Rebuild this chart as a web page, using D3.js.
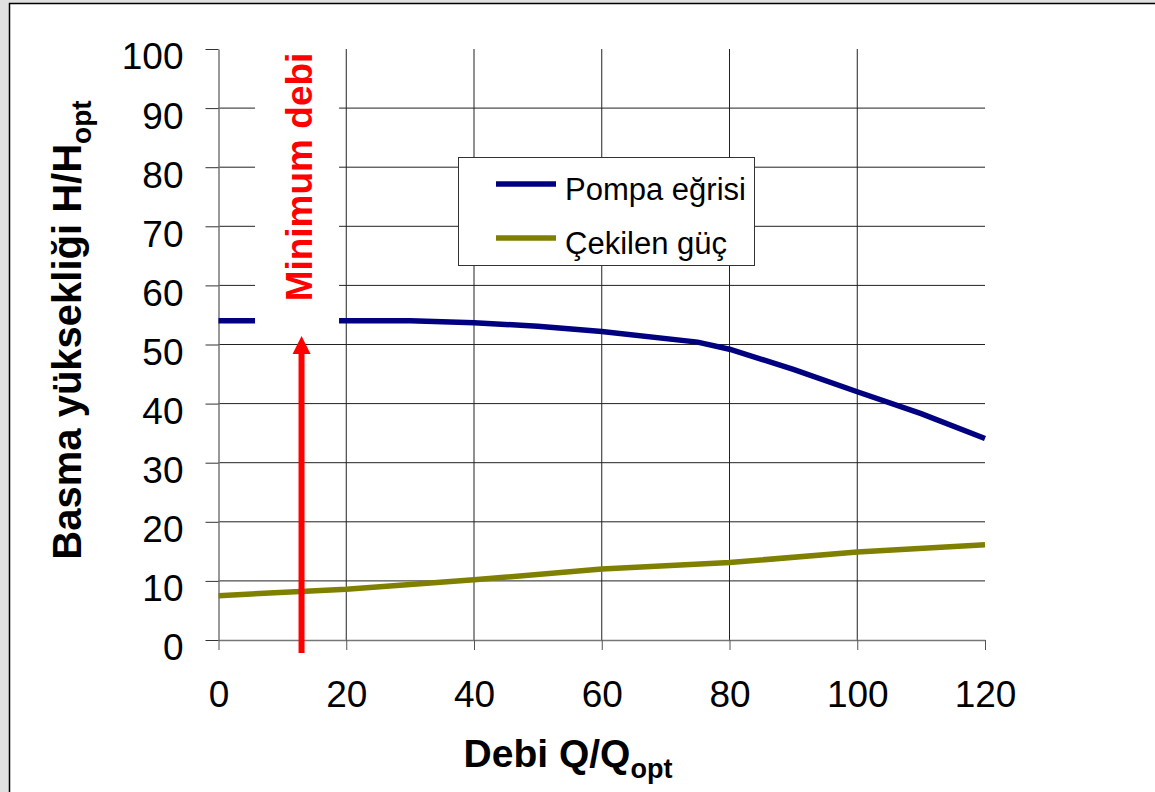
<!DOCTYPE html>
<html>
<head>
<meta charset="utf-8">
<script src="https://cdn.jsdelivr.net/npm/d3@7"></script>
<style>
  html, body { margin: 0; padding: 0; background: #fff; }
  svg { display: block; font-family: "Liberation Sans", Arial, sans-serif; }
</style>
</head>
<body>
<svg id="chart" width="1155" height="792"></svg>
<script>
// ---- data ----
const pumpQ = [0, 10, 20, 30, 40, 50, 60, 75, 80, 90, 100, 110, 120];
const pumpH = [54, 54, 54, 54, 53.7, 53.1, 52.2, 50.4, 49.2, 45.8, 42, 38.3, 34.1];
const powerQ = [0, 20, 40, 60, 80, 100, 120];
const powerP = [7.5, 8.6, 10.2, 12.0, 13.1, 14.9, 16.1];
const xTicks = [0, 20, 40, 60, 80, 100, 120];
const yTicks = [0, 10, 20, 30, 40, 50, 60, 70, 80, 90, 100];
const seriesNames = ["Pompa eğrisi", "Çekilen güç"];
const minFlow = 13;
const minFlowLabel = "Minimum debi";

// ---- layout ----
const svg = d3.select("#chart");
const W = 1155, H = 792;
const x = d3.scaleLinear().domain([0, 120]).range([218.5, 985]);
const y = d3.scaleLinear().domain([0, 100]).range([640, 49]);

// frame
svg.append("rect").attr("x", 0).attr("y", 0).attr("width", W).attr("height", H).attr("fill", "#e0e0e0");
svg.append("rect").attr("x", 9.5).attr("y", 3.5).attr("width", W).attr("height", H).attr("fill", "#fff")
  .attr("stroke", "#000").attr("stroke-width", 1.5);

// gridlines
const g = svg.append("g");
g.selectAll(".hg").data(yTicks.filter(d => d > 0 && d < 100)).join("line")
  .attr("x1", x(0)).attr("x2", x(120))
  .attr("y1", d => y(d)).attr("y2", d => y(d))
  .attr("stroke", "#222").attr("stroke-width", 1);
g.selectAll(".vg").data(xTicks.filter(d => d > 0 && d < 120)).join("line")
  .attr("x1", d => x(d)).attr("x2", d => x(d))
  .attr("y1", y(100)).attr("y2", y(0))
  .attr("stroke", "#222").attr("stroke-width", 1);

// axes
const yAxis = d3.axisLeft(y).tickValues(yTicks).tickSize(13).tickPadding(22).tickSizeOuter(0);
const gy = svg.append("g").attr("transform", `translate(${x(0)},0)`).call(yAxis);
gy.select(".domain").attr("stroke", "#777").attr("stroke-width", 1.5);
gy.selectAll(".tick line").attr("stroke", "#333");
gy.selectAll(".tick text").attr("font-size", 37).attr("fill", "#000")
  .attr("font-family", "'Liberation Sans', Arial, sans-serif").attr("dy", "0.54em");

const xAxis = d3.axisBottom(x).tickValues(xTicks).tickSize(10).tickPadding(31).tickSizeOuter(0);
const gx = svg.append("g").attr("transform", `translate(0,${y(0)})`).call(xAxis);
gx.select(".domain").attr("stroke", "#777").attr("stroke-width", 1.5);
gx.selectAll(".tick line").attr("stroke", "#555");
gx.selectAll(".tick text").attr("font-size", 37).attr("fill", "#000")
  .attr("font-family", "'Liberation Sans', Arial, sans-serif");

// series
const line = d3.line().x(d => x(d[0])).y(d => y(d[1]));
svg.append("path").datum(powerQ.map((q, i) => [q, powerP[i]]))
  .attr("d", line).attr("fill", "none").attr("stroke", "#808000").attr("stroke-width", 5.5);
svg.append("path").datum(pumpQ.map((q, i) => [q, pumpH[i]]))
  .attr("d", line).attr("fill", "none").attr("stroke", "#000080").attr("stroke-width", 5.5);

// minimum flow label box (white background)
svg.append("rect").attr("x", x(minFlow) - 46.5).attr("y", 40).attr("width", 84).attr("height", y(50) - 49)
  .attr("fill", "#fff");
svg.append("text")
  .attr("transform", `translate(${x(minFlow) + 10},${(52 + 302) / 2}) rotate(-90)`)
  .attr("text-anchor", "middle").attr("font-size", 37).attr("font-weight", "bold").attr("fill", "#ff0000")
  .text(minFlowLabel);

// arrow
const ax = x(minFlow);
svg.append("line").attr("x1", ax).attr("x2", ax).attr("y1", 653).attr("y2", 352)
  .attr("stroke", "#ff0000").attr("stroke-width", 6);
svg.append("path")
  .attr("d", `M${ax},336 L${ax - 9},354 L${ax + 9},354 Z`).attr("fill", "#ff0000");

// legend
const lg = svg.append("g");
lg.append("rect").attr("x", 458.5).attr("y", 157.5).attr("width", 296).attr("height", 108)
  .attr("fill", "#fff").attr("stroke", "#333").attr("stroke-width", 1);
const legColors = ["#000080", "#808000"];
const legY = [184, 238];
seriesNames.forEach((name, i) => {
  lg.append("line").attr("x1", 496).attr("x2", 556).attr("y1", legY[i]).attr("y2", legY[i])
    .attr("stroke", legColors[i]).attr("stroke-width", 5.5);
  lg.append("text").attr("x", 565).attr("y", legY[i] + 16).attr("font-size", 31).attr("fill", "#000")
    .text(name);
});

// axis titles
const yt = svg.append("text")
  .attr("transform", `translate(81,${(100 + 560) / 2}) rotate(-90)`)
  .attr("text-anchor", "middle").attr("font-size", 40).attr("font-weight", "bold").attr("fill", "#000");
yt.append("tspan").text("Basma yüksekliği H/H");
yt.append("tspan").attr("font-size", 28).attr("dy", 10).text("opt");

const xt = svg.append("text")
  .attr("x", 568).attr("y", 767)
  .attr("text-anchor", "middle").attr("font-size", 39).attr("font-weight", "bold").attr("fill", "#000");
xt.append("tspan").text("Debi Q/Q");
xt.append("tspan").attr("font-size", 27).attr("dy", 11).text("opt");
</script>
</body>
</html>
